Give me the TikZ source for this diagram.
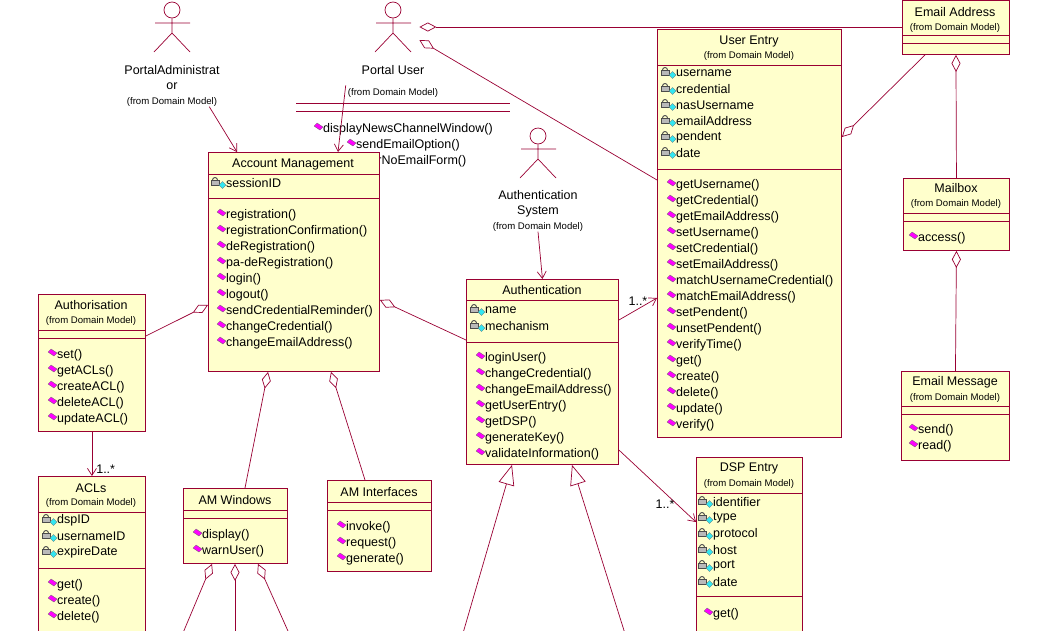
\documentclass[tikz,border=0pt]{standalone}
\usepackage{fontspec}
\setmainfont{Liberation Sans}
\usetikzlibrary{arrows.meta}
\definecolor{umlline}{HTML}{990033}
\definecolor{umlfill}{HTML}{FFFFCC}
\definecolor{opmag}{HTML}{FF00FF}
\definecolor{attcyan}{HTML}{33E6F0}
\tikzset{
  cls/.style={draw=umlline, fill=umlfill, line width=0.9pt, anchor=north west, inner sep=0pt},
  sep/.style={draw=umlline, line width=0.9pt},
  edge/.style={draw=umlline, line width=0.7pt},
  txt/.style={anchor=west, inner sep=0pt, font=\fontsize{12.5}{14}\selectfont},
  ttl/.style={inner sep=0pt, font=\fontsize{12.5}{14}\selectfont},
  sub/.style={inner sep=0pt, font=\fontsize{9.6}{11}\selectfont},
  agg/.style={edge, {Diamond[open,length=17pt,width=9pt,fill=white]}-},
  nav/.style={edge, -{Straight Barb[length=7pt,width=9pt]}},
  gen/.style={edge, -{Triangle[open,length=20pt,width=16pt,fill=white]}},
  actor/.style={draw=umlline, line width=0.7pt},
}
% small icons in front of the members
\newcommand\opicon[2]{\filldraw[fill=opmag, draw=black!60, line width=0.3pt] (#1,#2) ++(-9,-3) -- ++(3,-3) -- ++(6,4) -- ++(-3,3) -- cycle;}
\newcommand\atticon[2]{%
  \filldraw[fill=gray!55, draw=black!70, line width=0.3pt] (#1-15,#2-3) rectangle (#1-7,#2+2);
  \draw[black!70, line width=0.9pt] (#1-13.5,#2-3) arc[start angle=180, end angle=360, radius=2.5];
  \filldraw[fill=attcyan, draw=black!60, line width=0.3pt] (#1-7,#2+2) -- ++(3.5,-3.5) -- ++(3.5,3.5) -- ++(-3.5,3.5) -- cycle;}
\newcommand\oplist[3]{\foreach \t [count=\i from 0] in {#3}{\opicon{#1}{#2+16*\i}\node[txt] at (#1,#2+16*\i) {\t};}}
\newcommand\attlist[3]{\foreach \t [count=\i from 0] in {#3}{\atticon{#1}{#2+16*\i}\node[txt] at (#1,#2+16*\i) {\t};}}
\begin{document}
\begin{tikzpicture}[x=1pt,y=-1pt]
  \useasboundingbox (0,0) rectangle (1060,630);

  % actors
  \node[actor,circle,minimum size=16pt,inner sep=0pt] (pa) at (172,10) {};
  \draw[actor] (pa.south) -- (172,33) -- (154,52) (172,33) -- (190,52) (155,23) -- (190,23);
  \node[ttl] (palbl) at (172,70) {PortalAdministrat};
  \node[ttl] (palbl2) at (172,86) {or};
  \node[sub] (pasub) at (172,102) {(from Domain Model)};

  \node[actor,circle,minimum size=16pt,inner sep=0pt] (pu) at (393,10) {};
  \draw[actor] (pu.south) -- (393,33) -- (375,52) (393,33) -- (411,52) (376,23) -- (411,23);
  \node[ttl] (pulbl) at (393,70) {Portal User};
  \node[sub] (pusub) at (393,93) {(from Domain Model)};
  \draw[sep] (296,103) -- (510,103) (296,111) -- (510,111);
  \opicon{323}{129}\node[txt] (pu1) at (323,129) {displayNewsChannelWindow()};
  \opicon{356}{145}\node[txt] (pu2) at (356,145) {sendEmailOption()};
  \opicon{355}{161}\node[txt] (pu3) at (355,161) {errorNoEmailForm()};

  \node[actor,circle,minimum size=16pt,inner sep=0pt] (as) at (538,136) {};
  \draw[actor] (as.south) -- (538,159) -- (520,178) (538,159) -- (556,178) (521,149) -- (556,149);
  \node[ttl] (aslbl) at (538,195) {Authentication};
  \node[ttl] (aslbl2) at (538,211) {System};
  \node[sub] (assub) at (538,227) {(from Domain Model)};

  % Email Address
  \node[cls,minimum width=107pt,minimum height=54pt] (ea) at (902,0) {};
  \node[ttl] at (955,12) {Email Address};
  \node[sub] at (955,28) {(from Domain Model)};
  \draw[sep] (902,35) -- (1009,35) (902,43) -- (1009,43);

  % User Entry
  \node[cls,minimum width=184pt,minimum height=408pt] (ue) at (657,29) {};
  \node[ttl] at (749,41) {User Entry};
  \node[sub] at (749,56) {(from Domain Model)};
  \draw[sep] (657,65) -- (841,65) (657,169) -- (841,169);
  \attlist{676}{73}{username,credential,nasUsername,emailAddress,pendent,date}
  \oplist{676}{185}{getUsername(),getCredential(),getEmailAddress(),setUsername(),setCredential(),setEmailAddress(),matchUsernameCredential(),matchEmailAddress(),setPendent(),unsetPendent(),verifyTime(),get(),create(),delete(),update(),verify()}

  % Mailbox
  \node[cls,minimum width=106pt,minimum height=72pt] (mb) at (903,178) {};
  \node[ttl] at (956,188) {Mailbox};
  \node[sub] at (956,204) {(from Domain Model)};
  \draw[sep] (903,213) -- (1009,213) (903,221) -- (1009,221);
  \oplist{918}{238}{access()}

  % Email Message
  \node[cls,minimum width=108pt,minimum height=89pt] (em) at (901,371) {};
  \node[ttl] at (955,382) {Email Message};
  \node[sub] at (955,398) {(from Domain Model)};
  \draw[sep] (901,406) -- (1009,406) (901,414) -- (1009,414);
  \oplist{918}{430}{send(),read()}

  % Account Management
  \node[cls,minimum width=171pt,minimum height=219pt] (am) at (208,152) {};
  \node[ttl] at (293,164) {Account Management};
  \draw[sep] (208,174) -- (379,174) (208,198) -- (379,198);
  \attlist{226}{183}{sessionID}
  \oplist{226}{215}{registration(),registrationConfirmation(),deRegistration(),pa-deRegistration(),login(),logout(),sendCredentialReminder(),changeCredential(),changeEmailAddress()}

  % Authentication
  \node[cls,minimum width=152pt,minimum height=185pt] (au) at (466,279) {};
  \node[ttl] at (542,290) {Authentication};
  \draw[sep] (466,300) -- (618,300) (466,342) -- (618,342);
  \attlist{485}{310}{name,mechanism}
  \oplist{485}{358}{loginUser(),changeCredential(),changeEmailAddress(),getUserEntry(),getDSP(),generateKey(),validateInformation()}

  % Authorisation
  \node[cls,minimum width=107pt,minimum height=137pt] (ao) at (38,294) {};
  \node[ttl] at (91,305) {Authorisation};
  \node[sub] at (91,321) {(from Domain Model)};
  \draw[sep] (38,330) -- (145,330) (38,338) -- (145,338);
  \oplist{57}{355}{set(),getACLs(),createACL(),deleteACL(),updateACL()}

  % ACLs
  \node[cls,minimum width=107pt,minimum height=170pt] (acl) at (38,476) {};
  \node[ttl] at (91,488) {ACLs};
  \node[sub] at (91,503) {(from Domain Model)};
  \draw[sep] (38,512) -- (145,512) (38,568) -- (145,568);
  \attlist{57}{520}{dspID,usernameID,expireDate}
  \oplist{57}{585}{get(),create(),delete()}

  % AM Windows
  \node[cls,minimum width=104pt,minimum height=75pt] (amw) at (183,488) {};
  \node[ttl] at (235,500) {AM Windows};
  \draw[sep] (183,510) -- (287,510) (183,518) -- (287,518);
  \oplist{202}{535}{display(),warnUser()}

  % AM Interfaces
  \node[cls,minimum width=104pt,minimum height=91pt] (ami) at (327,480) {};
  \node[ttl] at (379,492) {AM Interfaces};
  \draw[sep] (327,502) -- (431,502) (327,510) -- (431,510);
  \oplist{346}{527}{invoke(),request(),generate()}

  % DSP Entry
  \node[cls,minimum width=106pt,minimum height=190pt] (dsp) at (696,457) {};
  \node[ttl] at (749,468) {DSP Entry};
  \node[sub] at (749,484) {(from Domain Model)};
  \draw[sep] (696,493) -- (802,493) (696,596) -- (802,596);
  \attlist{713}{502}{identifier,type,protocol,host,port,date}
  \oplist{713}{614}{get()}

  % connectors
  \draw[nav] (pasub.south east) ++(-8,0) -- (am.north -| 237,0);
  \draw[nav] (pusub.north west) ++(-2,-3) -- (am.north -| 338,0);
  \draw[nav] (assub.south) -- (au.north);
  \draw[agg] (pu.east |- 0,27) ++(18,0) -- (ea.west |- 0,27);
  \draw[agg] (pu.east |- 0,40) ++(18,0) -- (ue.west |- 0,180);
  \draw[agg] (ue.east |- 0,137) -- (ea.south -| 925,0);
  \draw[agg] (ea.south) -- (mb.north);
  \draw[agg] (mb.south) -- (em.north);
  \draw[nav] (au.east |- 0,320) -- (ue.west |- 0,298) node[pos=0.5,above=3pt,txt,anchor=south] {1..*};
  \draw[nav] (au.east |- 0,450) -- (dsp.west |- 0,522) node[pos=0.75,left=2pt,txt,anchor=east] {1..*};
  \draw[agg] (am.east |- 0,300) -- (au.west |- 0,340);
  \draw[agg] (am.west |- 0,305) -- (ao.east |- 0,336);
  \draw[agg] (am.south -| 268,0) -- (amw.north -| 245,0);
  \draw[agg] (am.south -| 331,0) -- (ami.north -| 365,0);
  \draw[nav] (ao.south) -- (acl.north) node[pos=0.85,right=4pt,txt] {1..*};
  \coordinate (w1) at (180,640);
  \coordinate (w2) at (235,640);
  \coordinate (w3) at (292,640);
  \draw[agg] (amw.south -| 212,0) -- (w1);
  \draw[agg] (amw.south -| 235,0) -- (w2);
  \draw[agg] (amw.south -| 258,0) -- (w3);
  \coordinate (g1) at (461,640);
  \coordinate (g2) at (627,640);
  \draw[gen] (g1) -- (au.south -| 512,0);
  \draw[gen] (g2) -- (au.south -| 572,0);
\end{tikzpicture}
\end{document}
